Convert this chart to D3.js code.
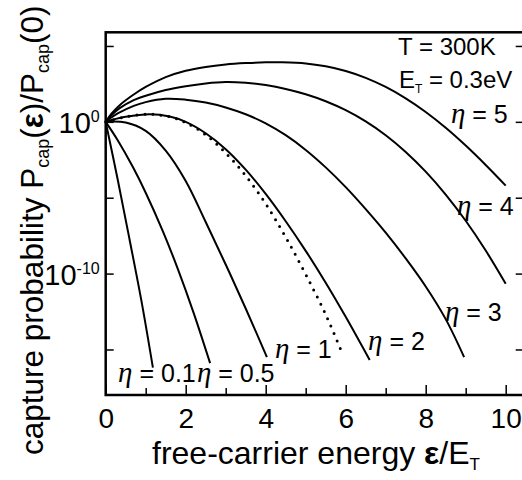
<!DOCTYPE html>
<html>
<head>
<meta charset="utf-8">
<script src="https://cdn.jsdelivr.net/npm/d3@7"></script>
<style>
  body { margin: 0; background: #fff; }
  svg { display: block; font-family: "Liberation Sans", Arial, sans-serif; }
</style>
</head>
<body>
<div id="chart"></div>
<script>
const W = 522, H = 480;

// curves: energy in units of E_T, log10 of P_cap(e)/P_cap(0)
const epsEta5 = [0, 0.15, 0.35, 0.7, 1.0, 1.5, 2.0, 2.5, 3.0, 3.5, 4.0, 4.4, 5.0, 5.5, 6.0, 6.5, 7.0, 7.5, 8.0, 8.5, 9.0, 9.5, 10];
const lgEta5  = [0, 0.55, 1.1, 1.8, 2.3, 2.95, 3.37, 3.62, 3.78, 3.87, 3.92, 3.92, 3.85, 3.66, 3.35, 2.9, 2.3, 1.55, 0.65, -0.39, -1.56, -2.84, -4.2];

const epsEta4 = [0, 0.15, 0.35, 0.7, 1.0, 1.5, 2.0, 2.5, 3.0, 3.5, 4.0, 4.5, 5.0, 5.5, 6.0, 6.5, 7.0, 7.5, 8.0, 8.5, 9.0, 9.5, 10];
const lgEta4  = [0, 0.45, 0.9, 1.43, 1.72, 2.1, 2.35, 2.53, 2.62, 2.57, 2.42, 2.17, 1.82, 1.36, 0.77, 0.03, -0.88, -1.98, -3.28, -4.79, -6.52, -8.48, -10.67];

const epsEta3 = [0, 0.15, 0.3, 0.7, 1.0, 1.5, 2.0, 2.5, 3.0, 3.5, 4.0, 4.5, 5.0, 5.5, 6.0, 6.5, 7.0, 7.5, 8.0, 8.5, 8.96];
const lgEta3  = [0, 0.3, 0.55, 1.05, 1.3, 1.52, 1.46, 1.27, 0.95, 0.5, -0.1, -0.88, -1.85, -3.0, -4.3, -5.75, -7.3, -9.0, -10.85, -13.0, -15.5];

const epsEta2 = [0, 0.15, 0.5, 1.1, 1.6, 2.0, 2.5, 3.0, 3.5, 4.0, 4.5, 5.0, 5.5, 6.0, 6.6];
const lgEta2  = [0, 0.12, 0.33, 0.5, 0.35, 0.0, -0.75, -1.8, -3.15, -4.75, -6.55, -8.5, -10.6, -12.85, -15.7];

const epsEta1 = [0, 0.5, 1.0, 1.5, 2.0, 2.5, 3.0, 3.5, 4.03];
const lgEta1  = [0, -0.05, -0.6, -1.9, -3.9, -6.6, -9.4, -12.3, -15.5];

const epsEta05 = [0, 0.3, 0.68, 1.0, 1.43, 1.8, 2.2, 2.61];
const lgEta05  = [0, -1.21, -2.98, -4.67, -7.22, -9.67, -12.6, -15.9];

const epsEta01 = [0, 0.3, 0.6, 0.9, 1.18];
const lgEta01  = [0, -3.8, -7.8, -11.9, -16.2];

// dotted comparison curve
const epsDots = [0, 0.5, 1.1, 1.6, 2.0, 2.5, 3.0, 3.5, 4.0, 4.5, 5.0, 5.5, 5.93];
const lgDots  = [0, 0.33, 0.5, 0.33, -0.05, -0.85, -2.05, -3.55, -5.4, -7.6, -10.05, -12.7, -15.35];

const etaNames = ["5", "4", "3", "2", "1", "0.5", "0.1"];
const xTicks = [0, 1, 2, 3, 4, 5, 6, 7, 8, 9, 10];
const yTicks = [5, 0, -5, -10, -15];      // exponents
const yLabelled = [0, -10];

const curves = [
  [epsEta5, lgEta5], [epsEta4, lgEta4], [epsEta3, lgEta3], [epsEta2, lgEta2],
  [epsEta1, lgEta1], [epsEta05, lgEta05], [epsEta01, lgEta01]
];

// label anchor points (data units) for each eta label
const labelEps = [8.63, 8.78, 8.48, 6.56, 4.23, 2.28, 0.31];
const labelLg  = [-0.09, -6.15, -13.12, -15.04, -15.57, -17.15, -17.15];

const svg = d3.select("#chart").append("svg")
  .attr("width", W).attr("height", H);

const x = d3.scaleLinear().domain([0, 10.5]).range([105.7, 525.7]);
const y = d3.scaleLog().domain([1e-18, Math.pow(10, 5.9)]).range([395, 32.3]);

const line = d3.line()
  .x(d => x(d[0]))
  .y(d => y(Math.pow(10, d[1])))
  .curve(d3.curveCatmullRom.alpha(0.5));

// curves
curves.forEach(c => {
  const pts = c[0].map((e, i) => [e, c[1][i]]);
  svg.append("path")
    .attr("d", line(pts))
    .attr("fill", "none")
    .attr("stroke", "#000")
    .attr("stroke-width", 2);
});

svg.append("path")
  .attr("d", line(epsDots.map((e, i) => [e, lgDots[i]])))
  .attr("fill", "none")
  .attr("stroke", "#000")
  .attr("stroke-width", 3)
  .attr("stroke-linecap", "round")
  .attr("stroke-dasharray", "0 8");

// bottom axis
const xAxis = svg.append("g")
  .attr("transform", `translate(0,${y.range()[0]})`)
  .call(d3.axisBottom(x).tickValues(xTicks).tickSize(-10).tickPadding(13)
    .tickFormat(d => d % 2 === 0 ? d : ""));
xAxis.select(".domain").remove();
xAxis.selectAll(".tick line")
  .attr("stroke-width", 1.5)
  .attr("y2", d => d % 2 === 0 ? -10 : -7);
xAxis.selectAll(".tick text")
  .attr("font-size", 28)
  .attr("font-family", "Liberation Sans, Arial, sans-serif")
  .attr("fill", "#000");

// left axis
const yAxis = svg.append("g")
  .attr("transform", `translate(${x.range()[0]},0)`)
  .call(d3.axisLeft(y).tickValues(yTicks.map(p => Math.pow(10, p))).tickSize(-8).tickPadding(6)
    .tickFormat(""));
yAxis.select(".domain").remove();
yAxis.selectAll(".tick line").attr("stroke-width", 1.5);

yAxis.selectAll(".tick").each(function(d) {
  const p = Math.round(Math.log10(d));
  if (!yLabelled.includes(p)) return;
  const t = d3.select(this).append("text")
    .attr("x", -6)
    .attr("dy", "0.38em")
    .attr("text-anchor", "end")
    .attr("fill", "#000")
    .attr("font-size", 29)
    .attr("font-family", "Liberation Sans, Arial, sans-serif");
  t.append("tspan").text("10");
  t.append("tspan").attr("dy", -11).attr("font-size", 16).text(p === 0 ? "0" : "-10");
});

// right axis ticks
const yAxisR = svg.append("g")
  .attr("transform", `translate(${x.range()[1]},0)`)
  .call(d3.axisRight(y).tickValues(yTicks.map(p => Math.pow(10, p))).tickSize(-10).tickFormat(""));
yAxisR.select(".domain").remove();
yAxisR.selectAll(".tick line").attr("stroke-width", 1.5);

// frame
svg.append("rect")
  .attr("x", x.range()[0]).attr("y", y.range()[1])
  .attr("width", x.range()[1] - x.range()[0])
  .attr("height", y.range()[0] - y.range()[1])
  .attr("fill", "none")
  .attr("stroke", "#000")
  .attr("stroke-width", 2.5);

// eta labels
etaNames.forEach((n, i) => {
  const t = svg.append("text")
    .attr("x", x(labelEps[i]))
    .attr("y", y(Math.pow(10, labelLg[i])))
    .attr("font-size", 25);
  t.append("tspan")
    .attr("font-family", "Liberation Serif, serif")
    .attr("font-style", "italic")
    .attr("font-size", 29)
    .text("\u03B7");
  t.append("tspan").text(" = " + n);
});

// condition labels
svg.append("text")
  .attr("x", x(7.31)).attr("y", y(Math.pow(10, 4.39)))
  .attr("font-size", 24)
  .text("T = 300K");

const et = svg.append("text")
  .attr("x", x(7.33)).attr("y", y(Math.pow(10, 2.22)))
  .attr("font-size", 24);
et.append("tspan").text("E");
et.append("tspan").attr("dy", 5).attr("font-size", 12).text("T");
et.append("tspan").attr("dy", -5).text(" = 0.3eV");

// axis titles
const xl = svg.append("text")
  .attr("x", 152).attr("y", 464)
  .attr("font-size", 32);
xl.append("tspan").text("free-carrier energy ");
xl.append("tspan").attr("font-weight", "bold").text("\u03B5");
xl.append("tspan").text("/E");
xl.append("tspan").attr("dy", 6).attr("font-size", 17).text("T");

const yl = svg.append("text")
  .attr("transform", "translate(43,455) rotate(-90)")
  .attr("font-size", 31.5);
yl.append("tspan").text("capture probability P");
yl.append("tspan").attr("dy", 6).attr("font-size", 18).text("cap");
yl.append("tspan").attr("dy", -6).text("(");
yl.append("tspan").attr("font-weight", "bold").text("\u03B5");
yl.append("tspan").text(")/P");
yl.append("tspan").attr("dy", 6).attr("font-size", 18).text("cap");
yl.append("tspan").attr("dy", -6).text("(0)");
</script>
</body>
</html>
